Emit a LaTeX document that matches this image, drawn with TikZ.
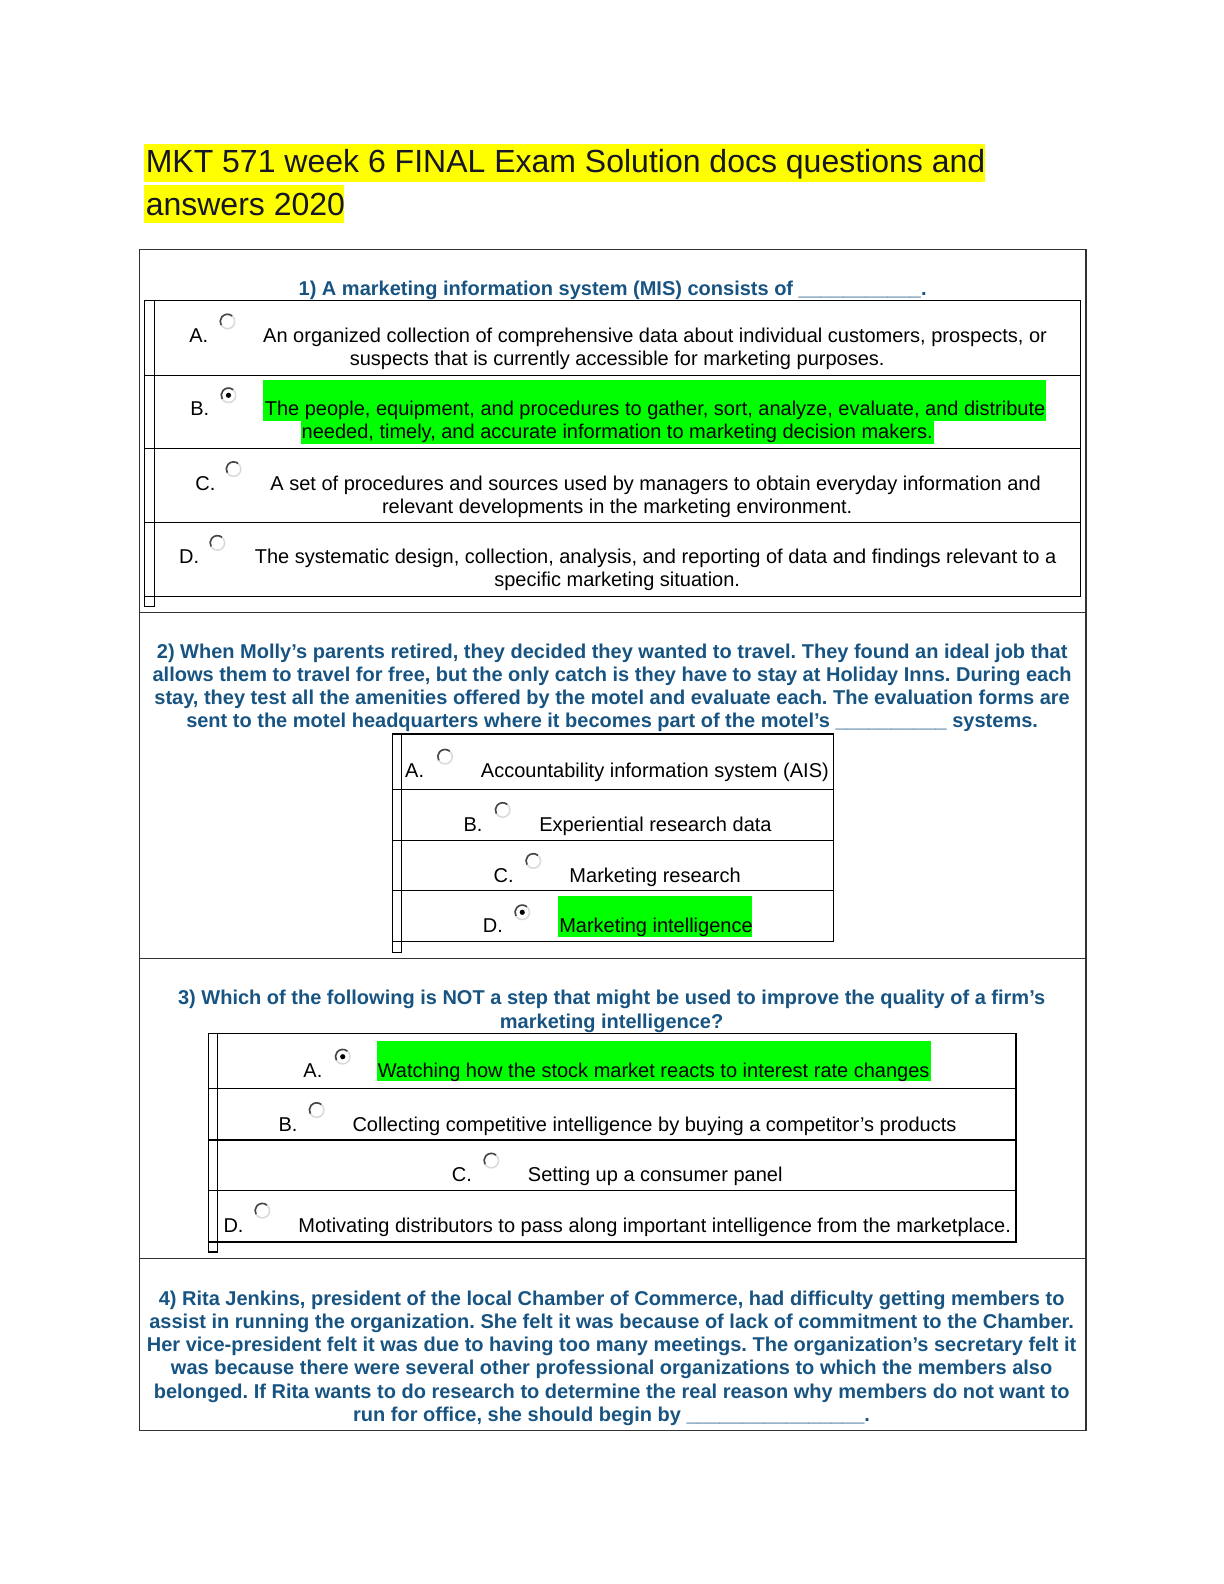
\documentclass[tikz,border=0pt]{standalone}
\usepackage{fontspec}
\setmainfont{Liberation Sans}
\usepackage{tikz}
\usetikzlibrary{positioning}
\frenchspacing
\definecolor{qblue}{RGB}{24,84,130}
\definecolor{hlgreen}{RGB}{0,255,0}
\definecolor{hlyellow}{RGB}{255,255,0}
\definecolor{titleink}{RGB}{22,22,40}
\definecolor{framegray}{RGB}{50,50,50}

\begin{document}
\begin{tikzpicture}[x=1.011pt,y=-1.011pt,inner sep=0pt,
  txt/.style={anchor=base west,font=\fontsize{20}{23.25}\selectfont},
  ctxt/.style={anchor=base,font=\fontsize{20}{23.25}\selectfont},
  qtxt/.style={anchor=base,align=center,text=qblue,font=\fontsize{20}{23.25}\selectfont\bfseries},
  ttl/.style={anchor=base west,text=titleink,font=\fontsize{32}{38}\selectfont},
  radio/.style={circle,minimum size=14.5pt,fill=white,draw=gray!30,line width=1.5pt},
  pick/.style={radio,path picture={\fill[black] (path picture bounding box.center) circle (2.6pt);}},
  grid/.style={line width=1.1pt,black},
  frame/.style={line width=1.5pt,framegray}]

\useasboundingbox (0,0) rectangle (1210.7,1566.8);

% title
\fill[hlyellow] (142,142) rectangle (974,180);
\fill[hlyellow] (142,183) rectangle (340,221);
\node (title1) at (144,171) [ttl] {MKT 571 week 6 FINAL Exam Solution docs questions and};
\node (title2) at (144,213) [ttl] {answers 2020};

% outer frame
\draw[frame] (138,247) rectangle (1074,1415);
\foreach \y in {606,948,1245} \draw[frame] (138,\y) -- (1074,\y);

% question 1
\node (q1) at (606,292) [qtxt] {1) A marketing information system (MIS) consists of \_\_\_\_\_\_\_\_\_\_\_.};
\draw[grid] (143,297) rectangle (1069,590);
\draw[grid] (153,297) -- (153,590);
\draw[grid] (143,590) rectangle (153,600);
\foreach \y in {371,444,517} \draw[grid] (143,\y) -- (1069,\y);
\fill[hlgreen] (260,376) rectangle (1035,416);
\fill[hlgreen] (298,416) rectangle (924,439);

\node (q1al) at (187,339) [txt] {A.};
\node (q1ar) at (225,318) [radio] {};
\node (q1a1) at (648,339) [ctxt] {An organized collection of comprehensive data about individual customers, prospects, or};
\node (q1a2) at (610.5,362) [ctxt] {suspects that is currently accessible for marketing purposes.};

\node (q1bl) at (188,411) [txt] {B.};
\node (q1br) at (226,391) [pick] {};
\node (q1b1) at (648,411) [ctxt] {The people, equipment, and procedures to gather, sort, analyze, evaluate, and distribute};
\node (q1b2) at (610.5,434) [ctxt] {needed, timely, and accurate information to marketing decision makers.};

\node (q1cl) at (193,485) [txt] {C.};
\node (q1cr) at (231,464) [radio] {};
\node (q1c1) at (648.5,485) [ctxt] {A set of procedures and sources used by managers to obtain everyday information and};
\node (q1c2) at (610.5,508) [ctxt] {relevant developments in the marketing environment.};

\node (q1dl) at (177,557) [txt] {D.};
\node (q1dr) at (215,537) [radio] {};
\node (q1d1) at (648.5,557) [ctxt] {The systematic design, collection, analysis, and reporting of data and findings relevant to a};
\node (q1d2) at (610.5,580) [ctxt] {specific marketing situation.};

% question 2 (base = last line)
\node (q2) at (605.5,720) [qtxt] {2) When Molly's parents retired, they decided they wanted to travel. They found an ideal job that\\
allows them to travel for free, but the only catch is they have to stay at Holiday Inns. During each\\
stay, they test all the amenities offered by the motel and evaluate each. The evaluation forms are\\
sent to the motel headquarters where it becomes part of the motel's \_\_\_\_\_\_\_\_\_\_ systems.};
\draw[grid] (388,726) rectangle (824,931);
\draw[grid] (397,726) -- (397,931);
\draw[grid] (388,931) rectangle (397,942);
\foreach \y in {781,831.5,881} \draw[grid] (388,\y) -- (824,\y);
\fill[hlgreen] (551.6,886.3) rectangle (743.5,926.5);

\node (q2al) at (400.6,769) [txt] {A.};
\node (q2ar) at (440.2,748.5) [radio] {};
\node (q2a) at (475.5,769) [txt] {Accountability information system (AIS)};
\node (q2bl) at (458.3,822) [txt] {B.};
\node (q2br) at (497.2,801.2) [radio] {};
\node (q2b) at (533.2,822) [txt] {Experiential research data};
\node (q2cl) at (488,873) [txt] {C.};
\node (q2cr) at (527.5,851.6) [radio] {};
\node (q2c) at (563.1,873) [txt] {Marketing research};
\node (q2dl) at (477.4,922.6) [txt] {D.};
\node (q2dr) at (516.6,902.4) [pick] {};
\node (q2d) at (553,922.6) [txt] {Marketing intelligence};

% question 3
\node (q3) at (605,1017) [qtxt] {3) Which of the following is NOT a step that might be used to improve the quality of a firm's\\
marketing intelligence?};
\draw[grid] (206,1022) rectangle (1005,1228.5);
\draw[grid] (215.3,1022) -- (215.3,1228.5);
\draw[grid] (206,1228.5) rectangle (215.3,1238.4);
\foreach \y in {1077,1127.6,1178} \draw[grid] (206,\y) -- (1005,\y);
\fill[hlgreen] (373.2,1029.7) rectangle (921,1069.2);

\node (q3al) at (300,1066) [txt] {A.};
\node (q3ar) at (339,1045.2) [pick] {};
\node (q3a) at (373.5,1066) [txt] {Watching how the stock market reacts to interest rate changes};
\node (q3bl) at (275.3,1119.5) [txt] {B.};
\node (q3br) at (313.2,1098) [radio] {};
\node (q3b) at (348.5,1119.5) [txt] {Collecting competitive intelligence by buying a competitor's products};
\node (q3cl) at (446.8,1169) [txt] {C.};
\node (q3cr) at (486,1148) [radio] {};
\node (q3c) at (522,1169) [txt] {Setting up a consumer panel};
\node (q3dl) at (220.9,1219) [txt] {D.};
\node (q3dr) at (259.5,1197.5) [radio] {};
\node (q3d) at (295,1219) [txt] {Motivating distributors to pass along important intelligence from the marketplace.};

% radio shading
\foreach \r in {q1ar,q1br,q1cr,q1dr,q2ar,q2br,q2cr,q2dr,q3ar,q3br,q3cr,q3dr}
  \draw[gray!55!black,line width=1.6pt] ([shift={(50:7.25pt)}]\r.center) arc (50:210:7.25pt);

% question 4
\node (q4) at (605,1406) [qtxt] {4) Rita Jenkins, president of the local Chamber of Commerce, had difficulty getting members to\\
assist in running the organization. She felt it was because of lack of commitment to the Chamber.\\
Her vice-president felt it was due to having too many meetings. The organization's secretary felt it\\
was because there were several other professional organizations to which the members also\\
belonged. If Rita wants to do research to determine the real reason why members do not want to\\
run for office, she should begin by \_\_\_\_\_\_\_\_\_\_\_\_\_\_\_\_.};

\end{tikzpicture}
\end{document}
